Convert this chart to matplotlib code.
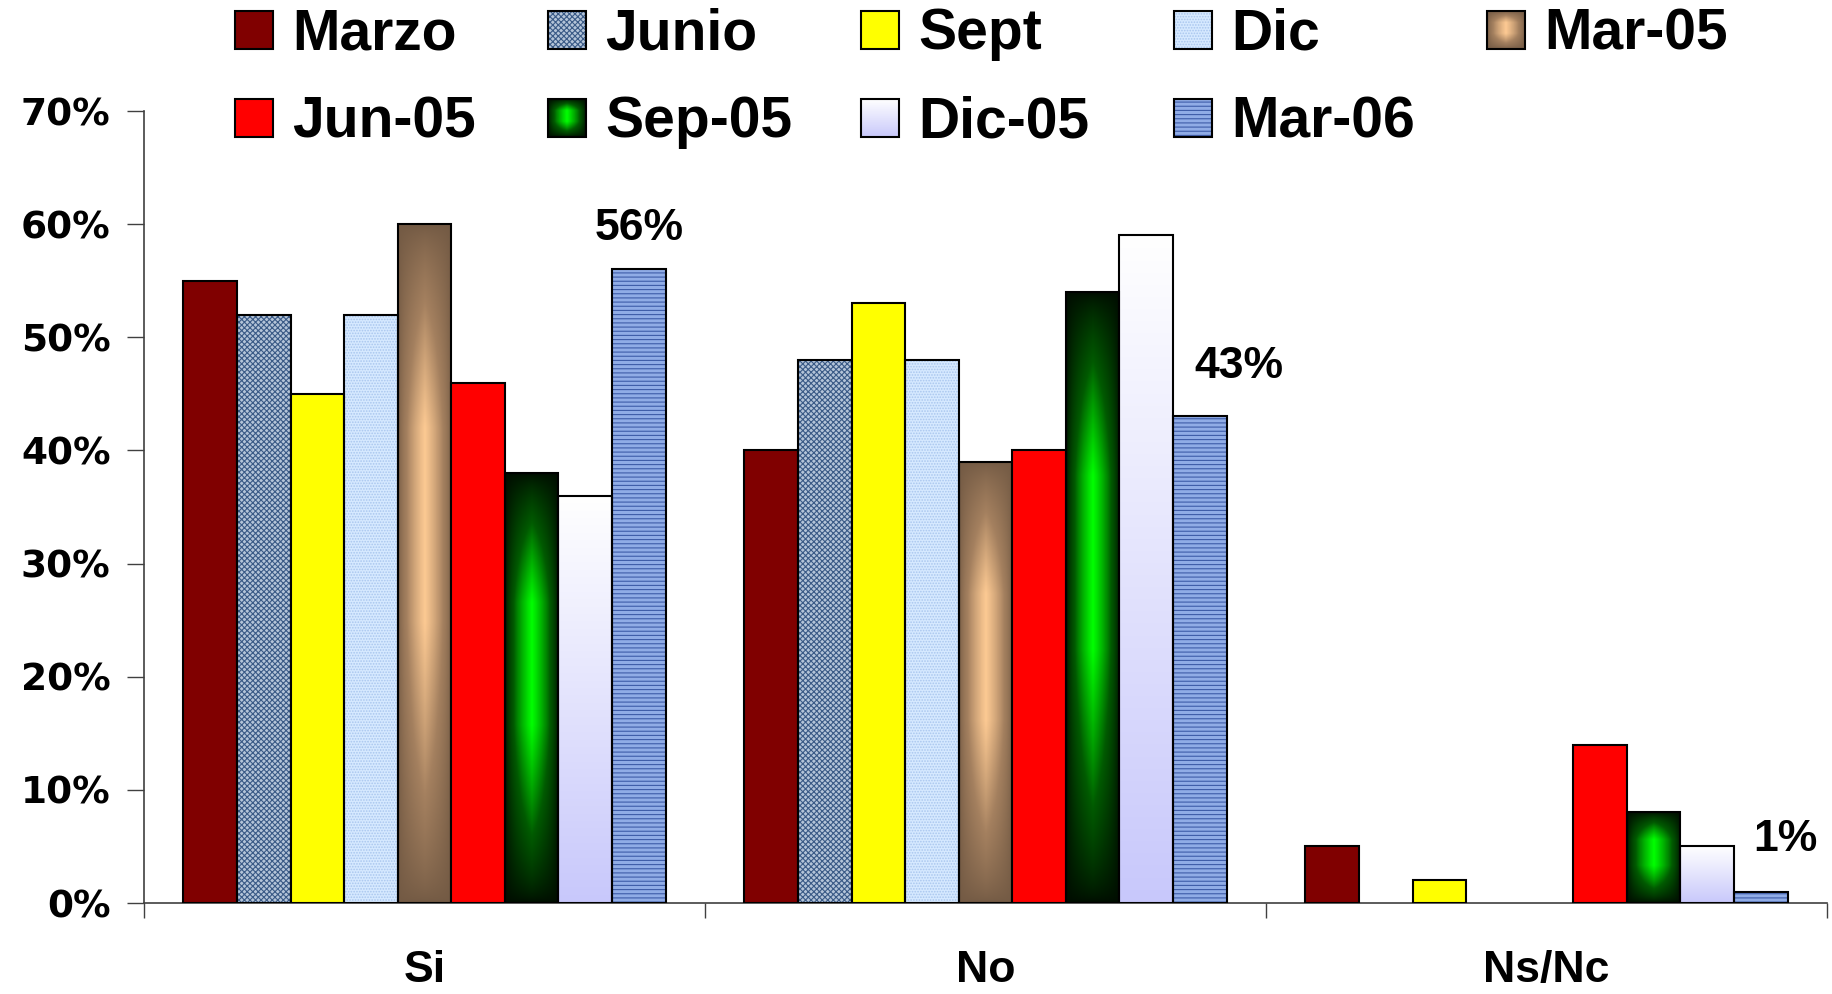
import numpy as np
import matplotlib
matplotlib.use("Agg")
import matplotlib.pyplot as plt
from matplotlib.patches import Rectangle
from matplotlib.colors import LinearSegmentedColormap

# === Data ===
categories = ["Si", "No", "Ns/Nc"]
series = ["Marzo", "Junio", "Sept", "Dic", "Mar-05", "Jun-05", "Sep-05", "Dic-05", "Mar-06"]
marzo = [55, 40, 5]
junio = [52, 48, 0]
sept = [45, 53, 2]
dic = [52, 48, 0]
mar05 = [60, 39, 0]
jun05 = [46, 40, 14]
sep05 = [38, 54, 8]
dic05 = [36, 59, 5]
mar06 = [56, 43, 1]
values = [marzo, junio, sept, dic, mar05, jun05, sep05, dic05, mar06]
last_labels = ["56%", "43%", "1%"]
yticks = [0, 10, 20, 30, 40, 50, 60, 70]

# === Styles (fill per series) ===
styles = [
    ("solid", "#800000"),
    ("hatch", "#b4c4d8", "#3a5a86", "xxxxxx"),
    ("solid", "#ffff00"),
    ("hatch", "#d6e9ff", "#a9c6ee", "......"),
    ("grad", "brown"),
    ("solid", "#ff0000"),
    ("grad", "green"),
    ("grad", "lavender"),
    ("hatch", "#90ace6", "#3e5ca8", "----"),
]

cmaps = {
    "brown": LinearSegmentedColormap.from_list("b", ["#735a44", "#a4805f", "#fdca93"]),
    "green": LinearSegmentedColormap.from_list("g", ["#000d00", "#005a00", "#00ff00"]),
    "lavender": LinearSegmentedColormap.from_list("l", ["#c8c8fb", "#ffffff"]),
}


def grad_array(kind, nx=64, ny=256):
    u = np.linspace(0, 1, nx)
    v = np.linspace(0, 1, ny)
    U, V = np.meshgrid(u, v)
    if kind == "lavender":
        t = V
    else:
        vc = 0.58
        hx = 1 - np.abs(2 * U - 1)
        hy = np.where(V < vc, V / vc, (1 - V) / (1 - vc))
        hy = np.clip(hy * 1.4, 0, 1)
        t = np.clip(hx, 0, 1) ** 0.6 * hy ** 0.7
    return cmaps[kind](t)


def decorate(ax, patch, style):
    x0, y0 = patch.get_x(), patch.get_y()
    w, h = patch.get_width(), patch.get_height()
    kind = style[0]
    if kind == "solid":
        patch.set_facecolor(style[1])
    elif kind == "hatch":
        patch.set_facecolor("none")
        ax.add_patch(Rectangle((x0, y0), w, h, facecolor=style[1], edgecolor=style[2],
                               hatch=style[3], linewidth=0, zorder=2.5))
    else:
        patch.set_facecolor("none")
        ax.imshow(grad_array(style[1]), extent=[x0, x0 + w, y0, y0 + h], origin="lower",
                  aspect="auto", interpolation="bilinear", zorder=2.5)


plt.rcParams["hatch.linewidth"] = 0.8

fig = plt.figure(figsize=(18.33, 9.94), dpi=100)
ax = fig.add_axes([144 / 1833, 91 / 994, 1683 / 1833, 792 / 994])

n = len(series)
bw = 0.0955
x = np.arange(len(categories)) + 0.5
for i, (vals, st) in enumerate(zip(values, styles)):
    pos = x + (i - (n - 1) / 2) * bw
    v = np.array(vals, dtype=float)
    keep = v > 0
    bars = ax.bar(pos[keep], v[keep], width=bw, edgecolor="black", linewidth=1.5, zorder=3)
    for b in bars:
        decorate(ax, b, st)

# labels on the last series
lab_dx = [0.0, 0.07, 0.043]
lab_dy = [3.6, 4.4, 4.6]
last_pos = x + (n - 1 - (n - 1) / 2) * bw
for j, txt in enumerate(last_labels):
    ax.text(last_pos[j] + lab_dx[j], mar06[j] + lab_dy[j], txt, ha="center", va="center",
            fontsize=32, fontweight="bold", family="Liberation Sans", zorder=5)

ax.set_xlim(0, len(categories))
ax.set_ylim(0, 70)
ax.set_yticks(yticks)
ax.set_yticklabels([f"{t}%" for t in yticks], fontsize=27, fontweight="bold",
                   family="DejaVu Sans")
ax.tick_params(axis="y", length=12, width=1, color="#404040", pad=12)
ax.set_xticks(np.arange(len(categories) + 1))
ax.set_xticklabels([])
ax.set_xticks(x, minor=True)
ax.set_xticklabels(categories, minor=True, fontsize=32, fontweight="bold",
                   family="Liberation Sans")
ax.tick_params(axis="x", which="major", length=11, width=1, color="#404040")
ax.tick_params(axis="x", which="minor", length=0, pad=34)
for s in ["top", "right"]:
    ax.spines[s].set_visible(False)
for s in ["left", "bottom"]:
    ax.spines[s].set_color("#404040")
    ax.spines[s].set_linewidth(1.2)

# === Legend drawn on a full-figure overlay in pixel units ===
lax = fig.add_axes([0, 0, 1, 1], zorder=10)
lax.set_xlim(0, 1833)
lax.set_ylim(994, 0)
lax.axis("off")
box = 38
for i, (name, st) in enumerate(zip(series, styles)):
    row, col = divmod(i, 5)
    left = 235 + col * 313
    cy = 30 + row * 88
    r = Rectangle((left, cy + box / 2), box, -box, edgecolor="black", linewidth=1.5, zorder=3)
    lax.add_patch(r)
    decorate(lax, r, st)
    lax.text(left + 57, cy + 4, name, ha="left", va="center", fontsize=41, fontweight="bold",
             family="Liberation Sans")
lax.set_xlim(0, 1833)
lax.set_ylim(994, 0)

fig.savefig("out.png", dpi=100)
